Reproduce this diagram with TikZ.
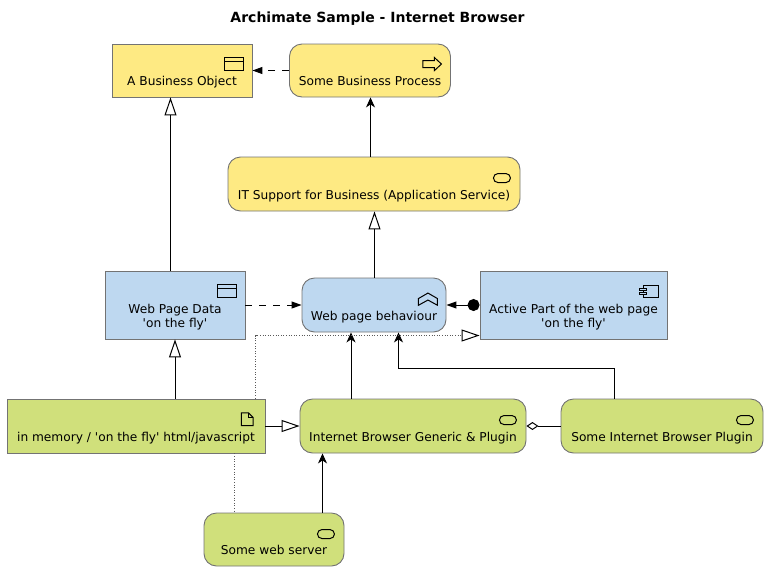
\documentclass[tikz,border=0pt]{standalone}
\usepackage{fontspec}
\setmainfont{DejaVu Sans}
\usetikzlibrary{arrows.meta}

\definecolor{bizcol}{HTML}{FEEA83}
\definecolor{appcol}{HTML}{BED8F0}
\definecolor{techcol}{HTML}{D0E07B}
\newcommand{\sq}{\textquotesingle}

\tikzset{
  box/.style={draw=black!55,line width=0.9pt,inner sep=0pt,align=center,
    font=\fontsize{12.2}{14}\selectfont},
  oneline/.style={text height=#1pt,text depth=12pt},
  twoline/.style={text height=56.5pt,text depth=11.5pt},
  round/.style={rounded corners=12.5pt},
  biz/.style={box,fill=bizcol},
  app/.style={box,fill=appcol},
  tech/.style={box,fill=techcol},
  conn/.style={line width=1pt},
  assign/.style={conn,-{Stealth[length=10pt,width=9pt,inset=3pt]}},
  special/.style={conn,-{Triangle[open,length=18pt,width=12pt]}},
  reach/.style={conn,dash pattern=on 7pt off 7pt,-{Triangle[length=10pt,width=7pt]}},
  relate/.style={line width=0.7pt,draw=black!65,dash pattern=on 1pt off 1.6pt},
  pics/objicon/.style={code={
    \draw[line width=1pt] (-28,14) rectangle (-9,27);
    \draw[line width=1pt] (-28,17.5) -- (-9,17.5);
  }},
  pics/procicon/.style={code={
    \draw[line width=1pt] (-28,17) -- (-16.5,17) -- (-16.5,14) -- (-9.5,20.5)
      -- (-16.5,27) -- (-16.5,24) -- (-28,24) -- cycle;
  }},
  pics/servicon/.style={code={
    \draw[line width=1pt,rounded corners=4.5pt] (-27,17) rectangle (-10,26);
  }},
  pics/funcicon/.style={code={
    \draw[line width=1pt] (-18.5,15.5) -- (-9,21) -- (-9,27.7) -- (-18.5,22.5)
      -- (-28,27.7) -- (-28,21) -- cycle;
  }},
  pics/compicon/.style={code={
    \draw[line width=1pt] (-24.3,15.3) rectangle (-9.3,27);
    \draw[line width=1pt,fill=appcol] (-27.7,17.7) rectangle (-21.3,20.3);
    \draw[line width=1pt,fill=appcol] (-27.7,21.7) rectangle (-21.3,24.3);
  }},
  pics/fileicon/.style={code={
    \draw[line width=1pt] (-24,14.3) -- (-17,14.3) -- (-12.3,19) -- (-12.3,27)
      -- (-24,27) -- cycle;
    \draw[line width=1pt] (-17,14.3) -- (-17,19) -- (-12.3,19);
  }}
}

\begin{document}
\begin{tikzpicture}[x=1pt,y=-1pt]
  \useasboundingbox (0,0) rectangle (768,571);
  \node (title) at (377.5,18.5) {\fontsize{14}{16}\selectfont\bfseries Archimate Sample - Internet Browser};

  \node[biz,oneline=41,minimum width=140pt] (object) at (182,70.5) {A Business Object};
  \node[biz,round,oneline=41,minimum width=161pt] (process) at (370,70.5) {Some Business Process};
  \node[biz,round,oneline=42,minimum width=292pt] (support) at (374,184) {IT Support for Business (Application Service)};
  \node[app,twoline,minimum width=140pt] (data) at (175,305) {Web Page Data\\\sq on the fly\sq};
  \node[app,round,oneline=42,minimum width=144pt] (behaviour) at (374,305) {Web page behaviour};
  \node[app,twoline,minimum width=187pt] (active) at (573.5,305) {Active Part of the web page\\\sq on the fly\sq};
  \node[tech,oneline=42,minimum width=258pt] (memory) at (136,426) {in memory / \sq on the fly\sq{} html/javascript};
  \node[tech,round,oneline=42,minimum width=226pt] (generic) at (413,426) {Internet Browser Generic \& Plugin};
  \node[tech,round,oneline=42,minimum width=202pt] (plugin) at (662,426) {Some Internet Browser Plugin};
  \node[tech,round,oneline=41,minimum width=140pt] (server) at (274,539.5) {Some web server};

  \pic at (object.north east) {objicon};
  \pic at (process.north east) {procicon};
  \pic at (support.north east) {servicon};
  \pic at (data.north east) {objicon};
  \pic at (behaviour.north east) {funcicon};
  \pic at (active.north east) {compicon};
  \pic at (memory.north east) {fileicon};
  \pic at (generic.north east) {servicon};
  \pic at (plugin.north east) {servicon};
  \pic at (server.north east) {servicon};

  \draw[reach] (process.west) -- (object.east);
  \draw[reach] (data.east) -- (behaviour.west);
  \draw[special] ([xshift=-4.5pt]data.north) -- ([xshift=-11.5pt]object.south);
  \draw[assign] ([xshift=-3.5pt]support.north) -- ([xshift=0.5pt]process.south);
  \draw[special] ([xshift=0.5pt]behaviour.north) -- ([xshift=0.5pt]support.south);
  \draw[conn,{Triangle[length=10pt,width=7pt]}-{Circle[length=12pt]}] (behaviour.east) -- (active.west);
  \draw[special] (memory.north -| data.south) -- (data.south);
  \draw[special] (memory.east) -- (generic.west);
  \draw[assign] ([xshift=-62pt]generic.north) -- ([xshift=-23pt]behaviour.south);
  \draw[assign] ([xshift=-47.5pt]plugin.north) -- ++(0,-30) -| ([xshift=24.5pt]behaviour.south);
  \draw[conn,{Diamond[open,length=12pt,width=8pt]}-] (generic.east) -- (plugin.west);
  \draw[assign] ([xshift=48.5pt]server.north) -- ([xshift=-90.5pt]generic.south);
  \draw[relate,-{Triangle[open,length=18pt,width=12pt,line width=1pt,color=black]}] ([xshift=119.5pt]memory.north) |- ([yshift=-30.5pt]active.west);
  \draw[relate] ([xshift=98.5pt]memory.south) -- ([xshift=-39.5pt]server.north);
\end{tikzpicture}
\end{document}
